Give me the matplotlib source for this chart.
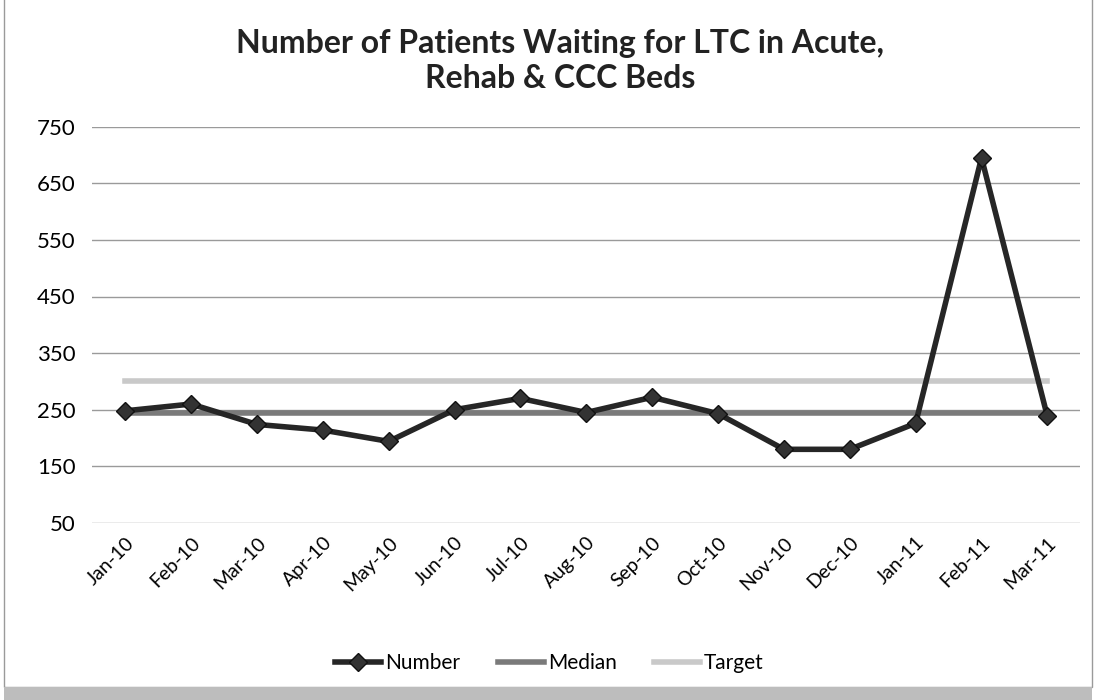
import matplotlib.pyplot as plt
from matplotlib.patches import Rectangle

months = ['Jan-10', 'Feb-10', 'Mar-10', 'Apr-10', 'May-10', 'Jun-10', 'Jul-10',
          'Aug-10', 'Sep-10', 'Oct-10', 'Nov-10', 'Dec-10', 'Jan-11', 'Feb-11', 'Mar-11']
number = [248, 260, 224, 214, 194, 250, 270, 245, 272, 243, 180, 180, 226, 695, 238]
median = [245] * len(months)
target = [300] * len(months)
yticks = [50, 150, 250, 350, 450, 550, 650, 750]

plt.rcParams['font.family'] = ['Lato', 'DejaVu Sans']

fig = plt.figure(figsize=(10.99, 7.0), dpi=100)
ax = fig.add_axes([0.084, 0.253, 0.899, 0.566])

x = range(len(months))
ax.plot(x, target, color='#c9c9c9', lw=4, label='Target', zorder=2)
ax.plot(x, median, color='#7a7a7a', lw=4, label='Median', zorder=3)
ax.plot(x, number, color='#262626', lw=4, marker='D', markersize=9,
        markerfacecolor='#333333', markeredgecolor='#111111', label='Number', zorder=4)

ax.set_xlim(-0.5, len(months) - 0.5)
ax.set_ylim(50, 750)
ax.set_yticks(yticks)
ax.set_xticks(list(x))
ax.set_xticklabels(months, rotation=45, ha='right', rotation_mode='anchor', fontsize=14)
ax.tick_params(axis='y', labelsize=16, length=0, pad=12)
ax.tick_params(axis='x', length=0, pad=8)
ax.grid(axis='y', color='#9a9a9a', lw=1)
ax.set_axisbelow(True)
for s in ax.spines.values():
    s.set_visible(False)

fig.suptitle('Number of Patients Waiting for LTC in Acute,\nRehab & CCC Beds',
             x=0.51, y=0.958, fontsize=23, fontweight='bold', color='#222222',
             linespacing=1.25)

handles, labels = ax.get_legend_handles_labels()
order = [2, 1, 0]
fig.legend([handles[i] for i in order], [labels[i] for i in order],
           loc='center', bbox_to_anchor=(0.5, 0.053), ncol=3, frameon=False,
           fontsize=15, handlelength=2.2, columnspacing=1.8, handletextpad=0.2)

# chart border with a shadow along the bottom
fig.patches.append(Rectangle((0.004, 0.018), 0.99, 0.99, transform=fig.transFigure,
                             fill=False, edgecolor='#9a9a9a', lw=1))
fig.patches.append(Rectangle((0.004, 0.0), 0.99, 0.018, transform=fig.transFigure,
                             facecolor='#bdbdbd', edgecolor='none'))

fig.savefig('out.png', dpi=100)
